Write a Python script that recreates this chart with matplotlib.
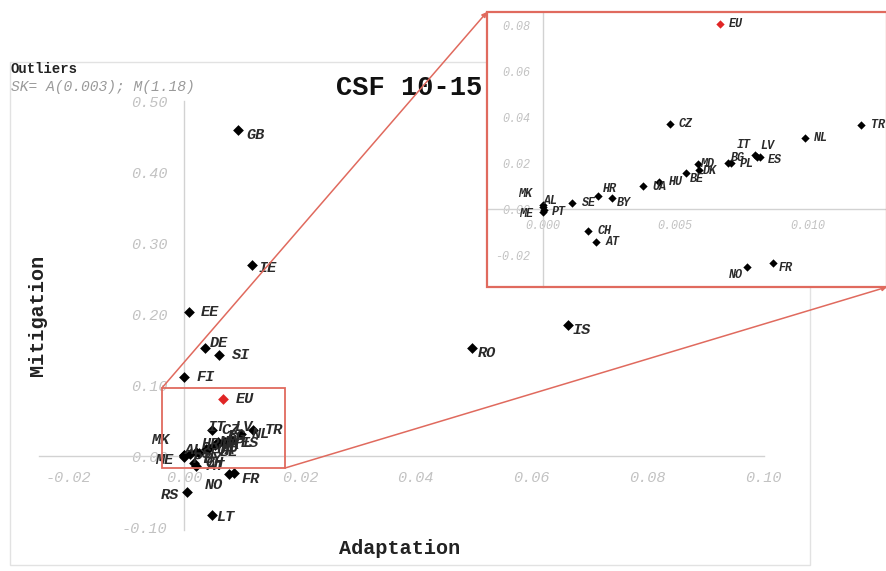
import matplotlib
matplotlib.use("Agg")
import matplotlib.pyplot as plt
from matplotlib.patches import Rectangle, ConnectionPatch

# ---------------- data ----------------
countries = ["GB", "IE", "EE", "DE", "SI", "FI", "RO", "IS", "RS", "LT", "NO", "FR",
             "CZ", "TR", "NL", "IT", "LV", "ES", "BG", "PL", "MD", "DK", "BE", "HU",
             "UA", "HR", "BY", "SE", "AL", "MK", "PT", "ME", "CH", "AT"]
adaptation = [0.0094, 0.0118, 0.0009, 0.0037, 0.0061, 0.0000, 0.0497, 0.0662, 0.0005, 0.0048,
              0.0077, 0.0087, 0.0048, 0.0120, 0.0099, 0.0080, 0.0081, 0.0082, 0.0070, 0.0071,
              0.00585, 0.0059, 0.0054, 0.0044, 0.0038, 0.0021, 0.0026, 0.0011, 0.0000, 0.0000,
              0.00005, 0.0000, 0.0017, 0.0020]
mitigation = [0.459, 0.269, 0.203, 0.152, 0.142, 0.111, 0.152, 0.1845, -0.051, -0.083,
              -0.025, -0.0236, 0.037, 0.0365, 0.031, 0.0233, 0.0228, 0.0228, 0.0201, 0.0200,
              0.0194, 0.0172, 0.0158, 0.0119, 0.0100, 0.0057, 0.0046, 0.0028, 0.0017, 0.0008,
              -0.0004, -0.0012, -0.0094, -0.0142]
eu_label = "EU"
eu_adaptation = 0.0067
eu_mitigation = 0.0804

main_xticks = [-0.02, 0.00, 0.02, 0.04, 0.06, 0.08, 0.10]
main_yticks = [-0.10, 0.00, 0.10, 0.20, 0.30, 0.40, 0.50]
inset_xticks = [0.000, 0.005, 0.010]
inset_yticks = [-0.02, 0.00, 0.02, 0.04, 0.06, 0.08]

title = "CSF 10-15"
note1 = "Outliers"
note2 = "SK= A(0.003); M(1.18)"
xlabel = "Adaptation"
ylabel = "Mitigation"

# ---------------- label offsets (pixels, right / down) ----------------
main_off = {
    "GB": (17, 5), "IE": (15, 3), "EE": (21, 0), "DE": (14, -5), "SI": (22, 0),
    "FI": (22, 0), "RO": (15, 5), "IS": (14, 5), "RS": (-17, 3), "LT": (14, 2),
    "NO": (-15, 11), "FR": (16, 6), "MK": (-24, -15), "ME": (-20, 3), "EU": (22, 0),
}
inset_off = {
    "EU": (16, 0), "CZ": (16, 0), "TR": (17, 0), "NL": (16, 0), "IT": (-11, -10),
    "LV": (10, -11), "ES": (15, 3), "BG": (10, -5), "PL": (16, 1), "MD": (9, 0),
    "DK": (11, 1), "BE": (11, 6), "HU": (17, 0), "UA": (16, 1), "HR": (12, -7),
    "BY": (12, 5), "SE": (17, 0), "MK": (-18, -13), "AL": (8, -4), "ME": (-17, 2),
    "PT": (15, 2), "CH": (17, 0), "AT": (17, 0), "NO": (-11, 8), "FR": (13, 5),
}

MONO = "Liberation Mono"
RED = "#e06a5e"
EURED = "#e02525"
TICKC = "#c2c2c2"
AXC = "#d2d2d2"

W, H = 887, 571
fig = plt.figure(figsize=(W / 100, H / 100), dpi=100)
fig.patch.set_facecolor("white")


def frac(x0, y0, x1, y1):
    return [x0 / W, 1 - y1 / H, (x1 - x0) / W, (y1 - y0) / H]


def style_axes(a, xt, yt, xfmt, yfmt, size, xpad, ypad):
    for s in ["top", "right"]:
        a.spines[s].set_visible(False)
    a.spines["left"].set_position(("data", 0))
    a.spines["bottom"].set_position(("data", 0))
    for s in ["left", "bottom"]:
        a.spines[s].set_color(AXC)
        a.spines[s].set_linewidth(1.0)
    a.set_xticks(xt)
    a.set_xticklabels([xfmt.format(v) for v in xt])
    a.set_yticks(yt)
    a.set_yticklabels([yfmt.format(v) for v in yt])
    a.tick_params(length=0, colors=TICKC, labelsize=size)
    a.tick_params(axis="x", pad=xpad)
    a.tick_params(axis="y", pad=ypad)
    for lab in a.get_xticklabels() + a.get_yticklabels():
        lab.set_fontfamily(MONO)
        lab.set_fontstyle("italic")


# ---------------- main axes ----------------
ax = fig.add_axes(frac(10, 62, 810, 565))
ax.set_xlim(-0.030, 0.108)
ax.set_ylim(-0.1535, 0.555)
ax.set_facecolor("none")
style_axes(ax, main_xticks, main_yticks, "{:.2f}", "{:.2f}", 11, 11, 12)
ax.spines["left"].set_bounds(-0.104, 0.50)
ax.spines["bottom"].set_bounds(-0.025, 0.10)

# panel border
ax.add_patch(Rectangle((0, 0), 1, 1, transform=ax.transAxes, fill=False,
                       edgecolor="#e2e2e2", lw=1.0, clip_on=False, zorder=0))

all_c = countries + [eu_label]
all_a = adaptation + [eu_adaptation]
all_m = mitigation + [eu_mitigation]

ax.scatter(adaptation, mitigation, marker="D", s=30, color="black", zorder=3, linewidths=0)
ax.scatter([eu_adaptation], [eu_mitigation], marker="D", s=30, color=EURED, zorder=3, linewidths=0)

for c, xv, yv in zip(all_c, all_a, all_m):
    if c in main_off:
        dx, dy = main_off[c]
    else:
        dx, dy = inset_off.get(c, (14, 0))
        dx, dy = dx * 1.2, dy * 1.2
    ax.annotate(c, (xv, yv), xytext=(dx, -dy), textcoords="offset pixels",
                ha="center", va="center", fontsize=11, fontfamily=MONO,
                fontstyle="italic", fontweight="bold", color="#2a2a2a", zorder=4)

# zoom rectangle
zx0, zy0, zx1, zy1 = -0.0038, -0.017, 0.0174, 0.0958
ax.add_patch(Rectangle((zx0, zy0), zx1 - zx0, zy1 - zy0, fill=False,
                       edgecolor=RED, lw=1.3, zorder=5))

fig.text(400 / W, 1 - 548 / H, xlabel, fontfamily=MONO, fontweight="bold",
         fontsize=14.5, color="#222222", ha="center", va="center")
fig.text(37 / W, 1 - 315 / H, ylabel, fontfamily=MONO, fontweight="bold",
         fontsize=14.5, color="#222222", ha="center", va="center", rotation=90)

fig.text(409 / W, 1 - 88 / H, title, fontfamily=MONO, fontweight="bold",
         fontsize=19.5, color="#111111", ha="center", va="center")
fig.text(11 / W, 1 - 69 / H, note1, fontfamily=MONO, fontweight="bold",
         fontsize=10, color="#222222", ha="left", va="center")
fig.text(11 / W, 1 - 87 / H, note2, fontfamily=MONO, fontstyle="italic",
         fontsize=10.5, color="#9a9a9a", ha="left", va="center")

# ---------------- inset axes ----------------
ins = fig.add_axes(frac(487, 12, 887, 287))
ins.set_xlim(-0.0021, 0.0130)
ins.set_ylim(-0.0339, 0.0857)
ins.set_facecolor("white")
ins.set_zorder(10)
style_axes(ins, inset_xticks, inset_yticks, "{:.3f}", "{:.2f}", 8.5, 8, 9)
ins.add_patch(Rectangle((0, 0), 1, 1, transform=ins.transAxes, fill=False,
                        edgecolor=RED, lw=1.6, clip_on=False, zorder=6))

ins.scatter(adaptation, mitigation, marker="D", s=18, color="black", zorder=3, linewidths=0)
ins.scatter([eu_adaptation], [eu_mitigation], marker="D", s=18, color=EURED, zorder=3, linewidths=0)
for c, xv, yv in zip(all_c, all_a, all_m):
    if c not in inset_off:
        continue
    dx, dy = inset_off[c]
    ins.annotate(c, (xv, yv), xytext=(dx, -dy), textcoords="offset pixels",
                 ha="center", va="center", fontsize=8.5, fontfamily=MONO,
                 fontstyle="italic", fontweight="bold", color="#2a2a2a", zorder=4)

# connectors
for (xa, ya), (xb, yb) in [((zx0, zy1), (0, 1)), ((zx1, zy0), (1, 0))]:
    con = ConnectionPatch(xyA=(xa, ya), coordsA=ax.transData,
                          xyB=(xb, yb), coordsB=ins.transAxes,
                          arrowstyle="-|>", mutation_scale=7,
                          color=RED, lw=1.1, zorder=20)
    fig.add_artist(con)

fig.savefig("out.png", dpi=100, facecolor="white")
